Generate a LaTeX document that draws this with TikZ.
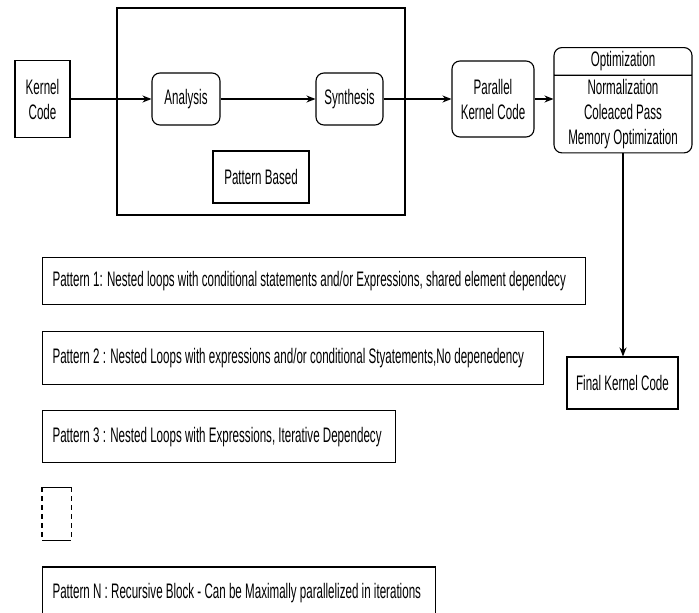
\documentclass[tikz,border=0pt]{standalone}
\usepackage{fontspec}
\setmainfont{Liberation Sans}[FakeStretch=0.552]
\usepackage{tikz}
\usetikzlibrary{arrows.meta,positioning,shapes.multipart}

\begin{document}
\begin{tikzpicture}[x=1pt,y=-1pt,
            font=\fontsize{21}{25}\selectfont,
            line width=1.1pt,
            >={Stealth[length=9pt,width=7pt]},
            box/.style={draw,align=center,inner sep=0pt},
            roundbox/.style={box,rounded corners=8pt},
            patternbox/.style={draw,align=flush left,inner xsep=10pt,inner ysep=0pt}
        ]
        \useasboundingbox (0,0) rectangle (699,613);
        \clip (0,0) rectangle (699,613);
        \node[box,minimum width=55pt,minimum height=77pt] (kernel) at (42.5,99) {Kernel\\Code};
        \node[draw,minimum width=288pt,minimum height=207pt] (frame) at (261,111.5) {};
        \node[roundbox,minimum width=68pt,minimum height=52pt] (analysis) at (186,99) {Analysis};
        \node[roundbox,minimum width=67pt,minimum height=52pt] (synthesis) at (349.5,99) {Synthesis};
        \node[box,minimum width=96pt,minimum height=52pt] (based) at (261,177) {Pattern Based};
        \node[roundbox,minimum width=82pt,minimum height=76pt] (parallel) at (493,99) {Parallel\\Kernel Code};
        \node[rectangle split,rectangle split parts=2,draw,rounded corners=8pt,align=center,
            minimum width=138pt,inner ysep=3.5pt,anchor=north] (opt) at (623,47)
            {Optimization \nodepart{two} Normalization\\Coleaced Pass\\Memory Optimization};
        \node[box,minimum width=111pt,minimum height=52pt] (final) at (622.5,383) {Final Kernel Code};
        \node[patternbox,text width=523pt,minimum height=47pt,anchor=north west] (p1) at (42,257)
            {Pattern 1: Nested loops with conditional statements and/or Expressions, shared element dependecy};
        \node[patternbox,text width=481pt,minimum height=53pt,below=26pt of p1.south west,anchor=north west] (p2)
            {Pattern 2 : Nested Loops with expressions and/or conditional Styatements,No depenedency};
        \node[patternbox,text width=333pt,minimum height=52pt,below=25pt of p2.south west,anchor=north west] (p3)
            {Pattern 3 : Nested Loops with Expressions, Iterative Dependecy};
        \node[minimum width=28pt,minimum height=52pt,inner sep=0pt,below=24pt of p3.south west,anchor=north west] (gap) {};
        \node[patternbox,text width=373pt,minimum height=53pt,below=26pt of gap.south west,anchor=north west] (pn)
            {Pattern N : Recursive Block - Can be Maximally parallelized in iterations};
        \draw (gap.north west) -- (gap.north east);
        \draw (gap.south west) -- (gap.south east);
        \draw[dash pattern=on 5pt off 4pt] (gap.north west) -- (gap.south west);
        \draw[dash pattern=on 5pt off 4pt] (gap.north east) -- (gap.south east);
        \draw[->] (kernel) -- (analysis);
        \draw[->] (analysis) -- (synthesis);
        \draw[->] (synthesis) -- (parallel);
        \draw[->] (parallel.east) -- (parallel.east -| opt.west);
        \draw[->] (opt.south) -- (opt.south |- final.north);
    \end{tikzpicture}
\end{document}
